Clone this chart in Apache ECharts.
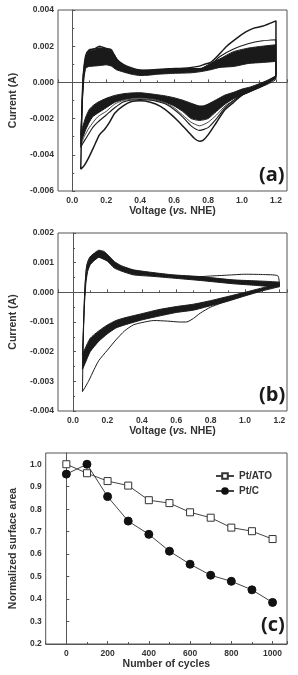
<!DOCTYPE html>
<html>
<head>
    <meta charset="utf-8">
    <title>CV</title>
    <style>
        body { margin: 0; background: #fff; }
    </style>
</head>
<body>
<div id="main" style="width: 298px;height:675px;"></div>

<script src="https://cdn.jsdelivr.net/npm/echarts@6/dist/echarts.min.js"></script>
<script>
    // ---- panel (a): Pt/ATO CV, values in A vs V ----
    var aCycle1Anodic = [[0.05,-0.0048],[0.055,-0.0025],[0.062,0.0000],[0.07,0.0009],[0.08,0.0015],[0.1,0.0018],[0.13,0.00185],[0.16,0.0020],[0.2,0.00187],[0.23,0.0018],[0.26,0.0013],[0.3,0.001],[0.35,0.0008],[0.4,0.00068],[0.45,0.00067],[0.5,0.00071],[0.57,0.00075],[0.68,0.0008],[0.75,0.0009],[0.78,0.001],[0.815,0.0011],[0.85,0.0014],[0.91,0.002],[0.97,0.00245],[1.025,0.0028],[1.07,0.003],[1.12,0.0031],[1.2,0.0034]];
    var aCycle1Cathodic = [[1.2,0.0004],[1.15,0.0000],[1.1,-0.0002],[1.05,-0.00045],[1.0,-0.0007],[0.95,-0.0011],[0.9,-0.0015],[0.85,-0.0022],[0.8,-0.0029],[0.77,-0.0032],[0.75,-0.00325],[0.72,-0.0031],[0.68,-0.0027],[0.62,-0.0021],[0.58,-0.00175],[0.52,-0.00133],[0.46,-0.0011],[0.4,-0.00102],[0.35,-0.00106],[0.3,-0.0013],[0.25,-0.0017],[0.22,-0.0022],[0.19,-0.0026],[0.16,-0.0029],[0.13,-0.0035],[0.1,-0.0041],[0.07,-0.0046],[0.05,-0.0048]];
    var aCycle2Anodic = [[0.05,-0.0036],[0.056,-0.0015],[0.065,0.0004],[0.075,0.0012],[0.09,0.0016],[0.11,0.0018],[0.16,0.0019],[0.2,0.00185],[0.23,0.00175],[0.26,0.0013],[0.3,0.00097],[0.35,0.00075],[0.4,0.00066],[0.5,0.0007],[0.6,0.00075],[0.7,0.00076],[0.76,0.00076],[0.815,0.00097],[0.87,0.00143],[0.95,0.00184],[1.04,0.00215],[1.12,0.0023],[1.2,0.00236]];
    var aCycle2Cathodic = [[1.2,0.0003],[1.15,0.0000],[1.1,-0.0003],[1.0,-0.0007],[0.95,-0.001],[0.9,-0.0014],[0.85,-0.002],[0.8,-0.0025],[0.75,-0.00265],[0.7,-0.0024],[0.65,-0.0019],[0.6,-0.0015],[0.55,-0.0012],[0.5,-0.00105],[0.45,-0.00097],[0.4,-0.00095],[0.35,-0.00097],[0.3,-0.00108],[0.25,-0.0014],[0.2,-0.0018],[0.15,-0.0022],[0.12,-0.0025],[0.1,-0.0028],[0.08,-0.0031],[0.06,-0.0034],[0.05,-0.0036]];
    var aCycle3Cathodic = [[1.0,-0.0007],[0.95,-0.001],[0.9,-0.0013],[0.85,-0.0018],[0.8,-0.0022],[0.75,-0.0024],[0.7,-0.0022],[0.65,-0.0018],[0.6,-0.0014],[0.55,-0.00115],[0.5,-0.001],[0.4,-0.0009],[0.3,-0.001],[0.25,-0.0012],[0.2,-0.0016],[0.15,-0.0019],[0.1,-0.0025],[0.07,-0.003],[0.05,-0.0035]];
    // dense bundle of later cycles: outer and inner edge
    var aBandOuterAnodic = [[0.05,-0.0034],[0.058,-0.0012],[0.066,0.0003],[0.075,0.0011],[0.085,0.0015],[0.1,0.00175],[0.13,0.0018],[0.16,0.0019],[0.2,0.00183],[0.23,0.00172],[0.25,0.0015],[0.27,0.0012],[0.3,0.00095],[0.35,0.00073],[0.4,0.00065],[0.45,0.00065],[0.5,0.00069],[0.6,0.00074],[0.7,0.00076],[0.76,0.00078],[0.815,0.00105],[0.87,0.0013],[0.95,0.0017],[1.04,0.0019],[1.12,0.002],[1.2,0.00208]];
    var aBandOuterCathodic = [[1.2,0.0002],[1.15,-0.0001],[1.1,-0.0003],[1.05,-0.0005],[1.0,-0.0007],[0.95,-0.0009],[0.9,-0.0012],[0.85,-0.0016],[0.8,-0.002],[0.75,-0.0021],[0.7,-0.002],[0.65,-0.0016],[0.6,-0.0013],[0.55,-0.0011],[0.5,-0.00095],[0.45,-0.00088],[0.4,-0.00085],[0.35,-0.00087],[0.3,-0.00095],[0.25,-0.0011],[0.2,-0.0014],[0.15,-0.0017],[0.12,-0.0019],[0.1,-0.0022],[0.08,-0.0026],[0.06,-0.0031],[0.05,-0.0034]];
    var aBandInnerAnodic = [[0.05,-0.0029],[0.06,-0.0009],[0.07,0.0003],[0.08,0.0008],[0.1,0.00088],[0.15,0.00092],[0.2,0.00097],[0.23,0.0009],[0.26,0.0007],[0.3,0.00058],[0.35,0.00045],[0.4,0.00038],[0.45,0.0004],[0.5,0.00045],[0.6,0.0005],[0.7,0.00053],[0.76,0.0006],[0.815,0.0007],[0.87,0.00083],[0.95,0.00088],[1.04,0.00105],[1.12,0.0011],[1.2,0.00116]];
    var aBandInnerCathodic = [[1.2,0.0004],[1.15,0.00012],[1.1,-0.00008],[1.05,-0.00025],[1.0,-0.00037],[0.95,-0.00055],[0.9,-0.0007],[0.85,-0.00095],[0.8,-0.0012],[0.77,-0.0013],[0.75,-0.0013],[0.7,-0.00115],[0.65,-0.00098],[0.6,-0.00085],[0.55,-0.00075],[0.5,-0.00068],[0.45,-0.00062],[0.4,-0.00057],[0.35,-0.00058],[0.3,-0.00063],[0.25,-0.00072],[0.2,-0.00088],[0.15,-0.0011],[0.12,-0.0013],[0.1,-0.0015],[0.08,-0.0019],[0.06,-0.0025],[0.05,-0.0029]];

    // ---- panel (b): Pt/C CV ----
    var bCycle1Anodic = [[0.055,-0.00335],[0.06,-0.0016],[0.068,0.0000],[0.078,0.0008],[0.09,0.0011],[0.11,0.00125],[0.15,0.00138],[0.2,0.0012],[0.24,0.00095],[0.3,0.0008],[0.4,0.00065],[0.5,0.00058],[0.6,0.00053],[0.7,0.00052],[0.8,0.00055],[0.9,0.00058],[1.0,0.00061],[1.1,0.0006],[1.19,0.00056]];
    var bCycle1Cathodic = [[1.2,0.00024],[1.13,0.00012],[1.02,-0.00006],[0.93,-0.00022],[0.8,-0.0005],[0.74,-0.0007],[0.7,-0.00088],[0.66,-0.001],[0.62,-0.001],[0.55,-0.00097],[0.47,-0.00095],[0.4,-0.00102],[0.35,-0.0011],[0.3,-0.0013],[0.25,-0.0016],[0.2,-0.00195],[0.15,-0.0023],[0.123,-0.0026],[0.09,-0.003],[0.055,-0.00335]];
    var bBandOuterAnodic = [[0.055,-0.0026],[0.062,-0.001],[0.07,0.0002],[0.08,0.0009],[0.1,0.0012],[0.12,0.0013],[0.15,0.00142],[0.18,0.00138],[0.2,0.00128],[0.24,0.00104],[0.28,0.0009],[0.35,0.00076],[0.46,0.00067],[0.58,0.00059],[0.74,0.00053],[0.93,0.00042],[1.05,0.00039],[1.16,0.00036],[1.2,0.00034]];
    var bBandInnerAnodic = [[0.055,-0.0021],[0.065,-0.0006],[0.075,0.0003],[0.085,0.0007],[0.1,0.00093],[0.12,0.00105],[0.15,0.00118],[0.2,0.00105],[0.24,0.00082],[0.28,0.00072],[0.35,0.00059],[0.46,0.00054],[0.58,0.00048],[0.74,0.0004],[0.93,0.00029],[1.05,0.00024],[1.16,0.00019],[1.2,0.00018]];
    var bBandInnerCathodic = [[1.2,0.00028],[1.1,0.00015],[1.0,0.0],[0.9,-0.00014],[0.8,-0.00028],[0.7,-0.0004],[0.6,-0.00048],[0.5,-0.00058],[0.4,-0.00072],[0.3,-0.00086],[0.25,-0.00095],[0.2,-0.0011],[0.15,-0.0013],[0.1,-0.00155],[0.07,-0.0019],[0.055,-0.0021]];
    var bBandOuterCathodic = [[1.2,0.00022],[1.1,0.00005],[1.0,-0.00012],[0.9,-0.0003],[0.8,-0.00045],[0.7,-0.0006],[0.6,-0.00068],[0.5,-0.0008],[0.4,-0.00093],[0.3,-0.0011],[0.25,-0.0012],[0.2,-0.0014],[0.15,-0.00165],[0.1,-0.002],[0.07,-0.0024],[0.055,-0.0026]];

    // ---- panel (c): normalized surface area ----
    var cycles = [0, 100, 200, 300, 400, 500, 600, 700, 800, 900, 1000];
    var ptATO = [1.0, 0.96, 0.925, 0.905, 0.84, 0.827, 0.786, 0.762, 0.718, 0.702, 0.667];
    var ptC = [0.956, 1.0, 0.856, 0.747, 0.688, 0.613, 0.555, 0.506, 0.479, 0.441, 0.385];

    var FONT = 'Liberation Sans';
    var INK = '#1a1a1a';
    var AXIS = '#555';

    function loop(anodic, cathodic) {
        return anodic.concat(cathodic);
    }

    function cvLine(data, idx, w) {
        return {
            type: 'line', xAxisIndex: idx, yAxisIndex: idx, data: data,
            showSymbol: false, symbol: 'none', smooth: 0.2, silent: true, z: 3,
            lineStyle: {color: INK, width: w}
        };
    }

    // filled region between two edges of the dense cycle bundle
    function band(edgeA, edgeB, idx) {
        return {
            type: 'custom', xAxisIndex: idx, yAxisIndex: idx, silent: true, z: 2,
            data: [edgeA[0]],
            renderItem: function (params, api) {
                var pts = edgeA.concat(edgeB.slice().reverse()).map(function (p) {
                    return api.coord(p);
                });
                return {type: 'polygon', shape: {points: pts}, style: {fill: INK}};
            }
        };
    }

    var nameStyle = {
        fontFamily: FONT, fontWeight: 'bold', fontSize: 10.5, color: '#333',
        rich: {i: {fontFamily: FONT, fontWeight: 'bold', fontStyle: 'italic', fontSize: 10.5, color: '#333'}}
    };

    function vAxis(idx, min, max, name, split) {
        return {
            type: 'value', gridIndex: idx, min: min, max: max, splitNumber: split,
            name: name, nameLocation: 'middle', nameGap: 15,
            nameTextStyle: nameStyle,
            axisLine: {show: true, lineStyle: {color: AXIS}},
            axisTick: {show: true, inside: true, length: 3, lineStyle: {color: AXIS}},
            minorTick: {show: true, splitNumber: 2, length: 2, lineStyle: {color: AXIS}},
            splitLine: {show: false},
            axisLabel: {
                fontFamily: FONT, fontWeight: 'bold', fontSize: 8.5, color: '#333', margin: 5,
                showMinLabel: false, showMaxLabel: false,
                formatter: function (v) { return v.toFixed(1); }
            }
        };
    }

    function iAxis(idx, min, max, name, gap) {
        return {
            type: 'value', gridIndex: idx, min: min, max: max,
            name: name, nameLocation: 'middle', nameGap: gap,
            nameTextStyle: nameStyle,
            axisLine: {show: true, lineStyle: {color: AXIS}},
            axisTick: {show: true, inside: true, length: 3, lineStyle: {color: AXIS}},
            minorTick: {show: true, splitNumber: 2, length: 2, lineStyle: {color: AXIS}},
            splitLine: {show: false},
            axisLabel: {
                fontFamily: FONT, fontWeight: 'bold', fontSize: 8.5, color: '#333', margin: 4,
                formatter: function (v) { return v.toFixed(3); }
            }
        };
    }

    var xC = vAxis(2, -100, 1070, 'Number of cycles', 6);
    xC.axisLabel.formatter = function (v) { return String(v); };
    var yC = iAxis(2, 0.2, 1.05, 'Normalized surface area', 21);
    yC.splitNumber = 8;
    yC.minorTick.show = false;
    yC.axisLabel.showMaxLabel = false;
    yC.axisLabel.formatter = function (v) { return v.toFixed(1); };

    var yA = iAxis(0, -0.006, 0.004, 'Current (A)', 33);
    yA.splitNumber = 5;
    var yB = iAxis(1, -0.004, 0.002, 'Current (A)', 33);
    yB.splitNumber = 6;

    var myChart = echarts.init(document.getElementById('main'));
    var option = {
        animation: false,
        backgroundColor: '#fff',
        grid: [
            {left: 51, top: 10, right: 11, height: 181, show: true, borderColor: AXIS, borderWidth: 1},
            {left: 53, top: 233, right: 11, height: 178, show: true, borderColor: AXIS, borderWidth: 1},
            {left: 37, top: 453, right: 11, height: 191, show: true, borderColor: AXIS, borderWidth: 1}
        ],
        xAxis: [
            vAxis(0, -0.084, 1.265, 'Voltage ({i|vs.} NHE)', 7),
            vAxis(1, -0.087, 1.244, 'Voltage ({i|vs.} NHE)', 7),
            xC
        ],
        yAxis: [yA, yB, yC],
        title: [
            {text: '(a)', left: 254, top: 160, textStyle: {fontFamily: 'Open Sans', fontWeight: 'bold', fontSize: 20, color: INK}},
            {text: '(b)', left: 254, top: 380, textStyle: {fontFamily: 'Open Sans', fontWeight: 'bold', fontSize: 20, color: INK}},
            {text: '(c)', left: 256, top: 610, textStyle: {fontFamily: 'Open Sans', fontWeight: 'bold', fontSize: 20, color: INK}}
        ],
        legend: {
            data: ['Pt/ATO', 'Pt/C'],
            orient: 'vertical', left: 210, top: 466, itemGap: 5,
            itemWidth: 18, itemHeight: 7,
            textStyle: {fontFamily: FONT, fontWeight: 'bold', fontSize: 10, color: '#333'}
        },
        series: [
            band(aBandOuterAnodic, aBandInnerAnodic, 0),
            band(aBandInnerCathodic, aBandOuterCathodic, 0),
            cvLine(loop(aBandInnerAnodic, aBandInnerCathodic), 0, 1),
            cvLine(loop(aBandOuterAnodic, aBandOuterCathodic), 0, 1),
            cvLine(aCycle3Cathodic, 0, 0.8),
            cvLine(loop(aCycle2Anodic, aCycle2Cathodic), 0, 1.1),
            cvLine(loop(aCycle1Anodic, aCycle1Cathodic), 0, 1.5),

            band(bBandOuterAnodic, bBandInnerAnodic, 1),
            band(bBandInnerCathodic, bBandOuterCathodic, 1),
            cvLine(loop(bBandInnerAnodic, bBandInnerCathodic), 1, 1),
            cvLine(loop(bBandOuterAnodic, bBandOuterCathodic), 1, 1),
            cvLine(loop(bCycle1Anodic, bCycle1Cathodic), 1, 1),

            {
                name: 'Pt/ATO', type: 'line', xAxisIndex: 2, yAxisIndex: 2,
                data: cycles.map(function (c, i) { return [c, ptATO[i]]; }),
                symbol: 'rect', symbolSize: 7,
                itemStyle: {color: '#fff', borderColor: '#333', borderWidth: 1},
                lineStyle: {color: '#444', width: 1}
            },
            {
                name: 'Pt/C', type: 'line', xAxisIndex: 2, yAxisIndex: 2,
                data: cycles.map(function (c, i) { return [c, ptC[i]]; }),
                symbol: 'circle', symbolSize: 8,
                itemStyle: {color: '#111', borderColor: '#111', borderWidth: 1},
                lineStyle: {color: '#444', width: 1}
            }
        ]
    };
    myChart.setOption(option);
</script>
</body>
</html>
